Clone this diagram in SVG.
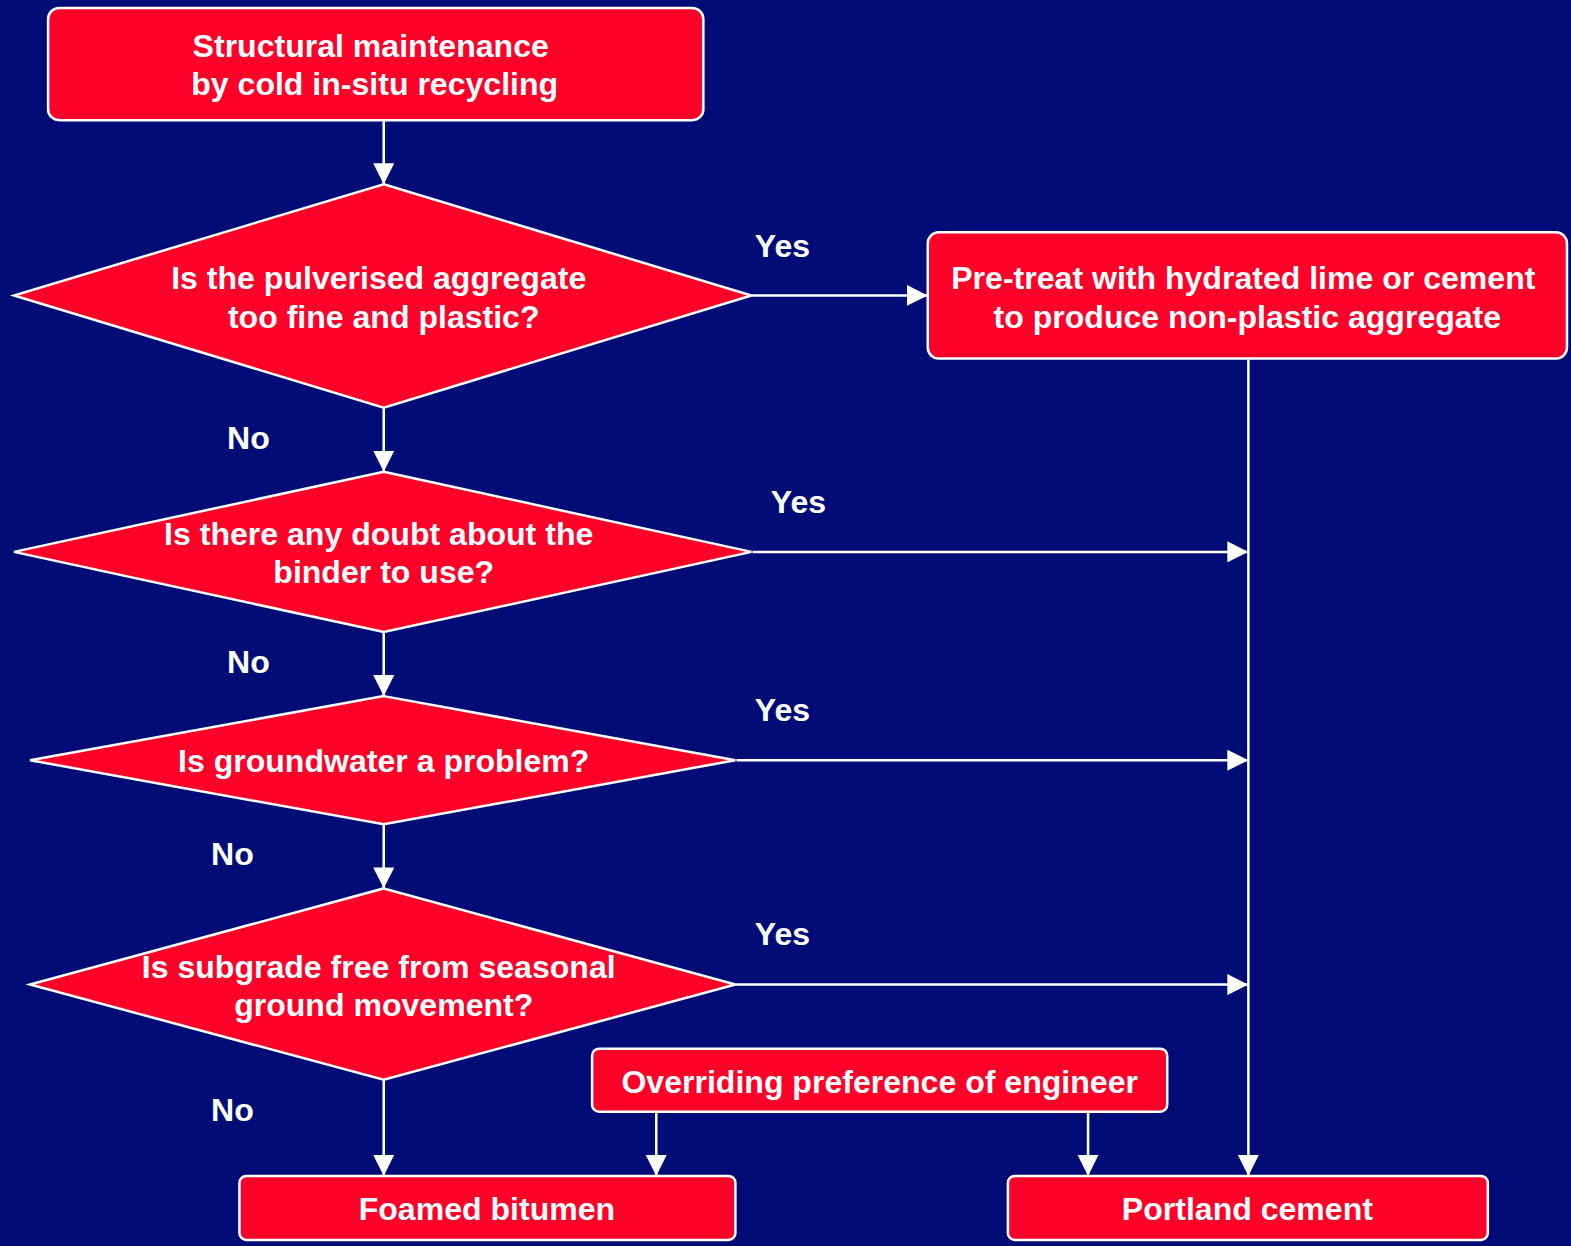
<svg xmlns="http://www.w3.org/2000/svg" width="1571" height="1246" viewBox="0 0 1571 1246">
<defs>
<style>
.n{fill:#ff0028;stroke:#ffffff;stroke-width:2.5}
.t{font-family:"Liberation Sans",Arial,sans-serif;font-weight:bold;font-size:32px;fill:#ffffff;text-anchor:middle}
.l{font-family:"Liberation Sans",Arial,sans-serif;font-weight:bold;font-size:32px;fill:#ffffff;text-anchor:middle}
.c{stroke:#ffffff;stroke-width:2.5;fill:none;marker-end:url(#ah)}
</style>
<marker id="ah" viewBox="0 0 20 20" refX="20" refY="10" markerWidth="21" markerHeight="21" markerUnits="userSpaceOnUse" orient="auto">
<path d="M0,0 L20,10 L0,20 Z" fill="#ffffff"/>
</marker>
</defs>
<rect x="0" y="0" width="1571" height="1246" fill="#020c76"/>
<g transform="scale(1.0019,1.0016)">
<g id="connectors">
<line class="c" x1="383" y1="121" x2="383" y2="184"/>
<line class="c" x1="751" y1="295" x2="926" y2="295"/>
<line class="c" x1="383" y1="408" x2="383" y2="471"/>
<line class="c" x1="751" y1="551" x2="1246" y2="551"/>
<line class="c" x1="383" y1="632" x2="383" y2="695"/>
<line class="c" x1="735" y1="759" x2="1246" y2="759"/>
<line class="c" x1="383" y1="824" x2="383" y2="887"/>
<line class="c" x1="735" y1="983" x2="1246" y2="983"/>
<line class="c" x1="383" y1="1079" x2="383" y2="1174"/>
<line class="c" x1="1246" y1="359" x2="1246" y2="1174"/>
<line class="c" x1="655" y1="1111" x2="655" y2="1174"/>
<line class="c" x1="1086" y1="1111" x2="1086" y2="1174"/>
<text class="l" x="781" y="257">Yes</text>
<text class="l" x="797" y="512">Yes</text>
<text class="l" x="781" y="720">Yes</text>
<text class="l" x="781" y="944">Yes</text>
<text class="l" x="248" y="448">No</text>
<text class="l" x="248" y="672">No</text>
<text class="l" x="232" y="864">No</text>
<text class="l" x="232" y="1119">No</text>
</g>
<g id="start">
<rect class="n" x="48" y="8" width="654" height="112" rx="11"/>
<text class="t" x="370" y="57">Structural maintenance</text>
<text class="t" x="374" y="95">by cold in-situ recycling</text>
</g>
<g id="q1">
<polygon class="n" points="383,184 750,295 383,407 14,295"/>
<text class="t" x="378" y="289">Is the pulverised aggregate</text>
<text class="t" x="383" y="327">too fine and plastic?</text>
</g>
<g id="pretreat">
<rect class="n" x="926" y="232" width="638" height="126" rx="11"/>
<text class="t" x="1241" y="289">Pre-treat with hydrated lime or cement</text>
<text class="t" x="1245" y="327">to produce non-plastic aggregate</text>
</g>
<g id="q2">
<polygon class="n" points="383,471 750,551 383,631 14,551"/>
<text class="t" x="378" y="544">Is there any doubt about the</text>
<text class="t" x="383" y="582">binder to use?</text>
</g>
<g id="q3">
<polygon class="n" points="383,695 734,759 383,823 30,759"/>
<text class="t" x="383" y="771">Is groundwater a problem?</text>
</g>
<g id="q4">
<polygon class="n" points="383,887 734,983 383,1078 30,983"/>
<text class="t" x="378" y="976">Is subgrade free from seasonal</text>
<text class="t" x="383" y="1014">ground movement?</text>
</g>
<g id="override">
<rect class="n" x="591" y="1047" width="574" height="63" rx="7"/>
<text class="t" x="878" y="1091">Overriding preference of engineer</text>
</g>
<g id="foamed">
<rect class="n" x="239" y="1174" width="495" height="64" rx="7"/>
<text class="t" x="486" y="1218">Foamed bitumen</text>
</g>
<g id="portland">
<rect class="n" x="1006" y="1174" width="479" height="64" rx="7"/>
<text class="t" x="1245" y="1218">Portland cement</text>
</g>
</g>
</svg>
